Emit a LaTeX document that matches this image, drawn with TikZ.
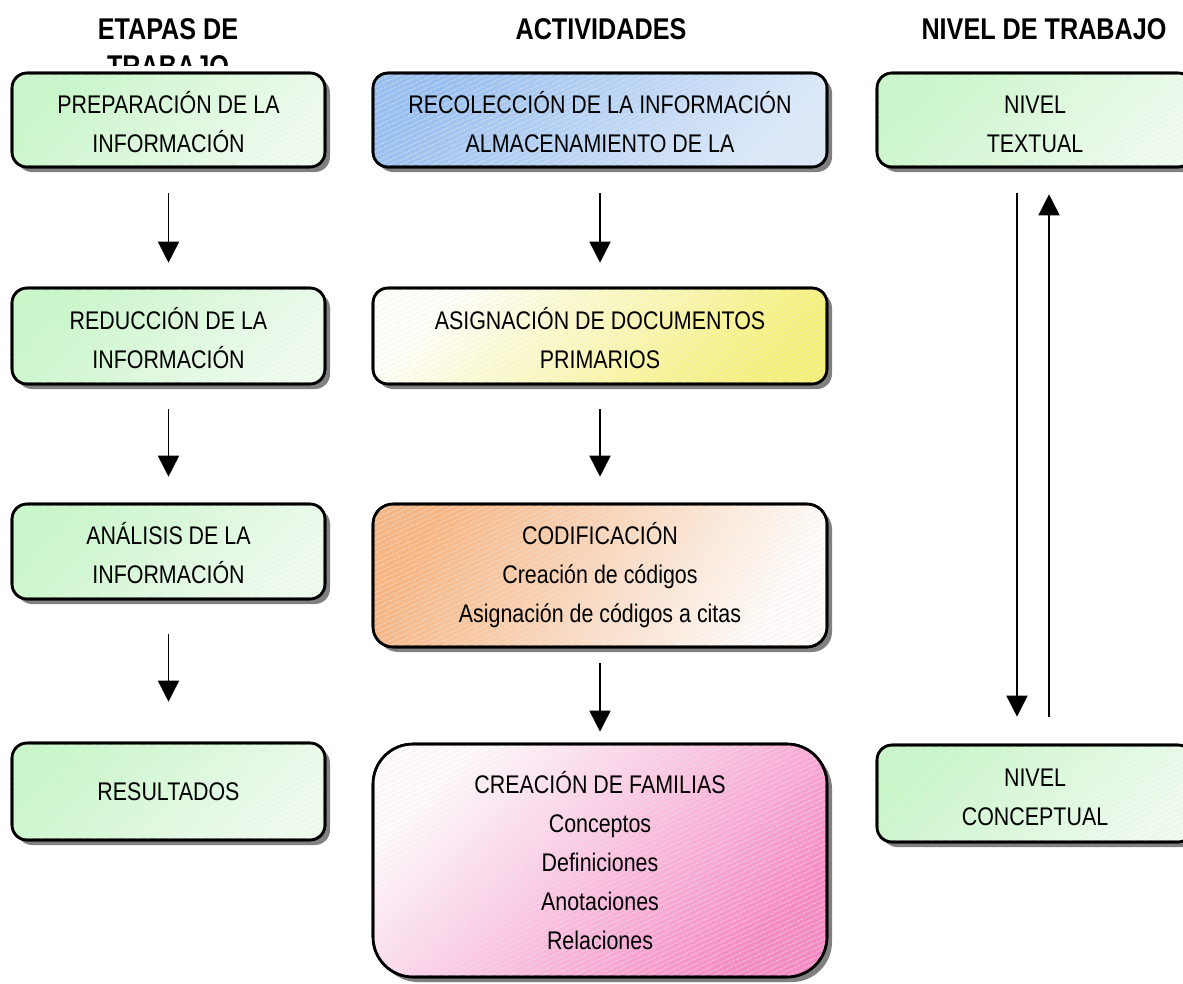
\documentclass[tikz,border=0pt]{standalone}
\usepackage{fontspec}
\setmainfont[FakeStretch=0.84]{Liberation Sans}
\usetikzlibrary{arrows.meta,shadows,patterns.meta}
\definecolor{grnA}{RGB}{198,247,198}
\definecolor{grnB}{RGB}{238,252,238}
\definecolor{bluA}{RGB}{150,190,240}
\definecolor{bluB}{RGB}{218,232,250}
\definecolor{yelA}{RGB}{245,240,115}
\definecolor{yelB}{RGB}{255,255,250}
\definecolor{orgA}{RGB}{246,180,128}
\definecolor{orgB}{RGB}{255,252,250}
\definecolor{pnkA}{RGB}{245,135,195}
\definecolor{pnkB}{RGB}{255,250,252}
\begin{document}
\begin{tikzpicture}[x=1pt,y=-1pt,
  box/.style={draw=black, line width=2.6pt, rounded corners=15pt, inner sep=0pt,
    align=center, font=\fontsize{25.5}{39}\selectfont,
    drop shadow={shadow xshift=5pt, shadow yshift=-5pt, fill=black!50, opacity=1},
    postaction={pattern={Lines[angle=25,distance=4pt,line width=0.8pt]}, pattern color=black!9},
    postaction={draw=black, line width=2.6pt}},
  twolines/.style={text height=66pt, text depth=1.6pt},
  gbox/.style={box, top color=grnA, bottom color=grnB, shading angle=45},
  bbox/.style={box, top color=bluA, bottom color=bluB, shading angle=45},
  ybox/.style={box, top color=yelB, bottom color=yelA, shading angle=45},
  obox/.style={box, top color=orgA, bottom color=orgB, shading angle=60, rounded corners=20pt},
  pbox/.style={box, top color=pnkB, bottom color=pnkA, shading angle=45, rounded corners=40pt},
  head/.style={font=\fontsize{30}{37}\selectfont\bfseries, inner sep=0pt, anchor=base},
  arr/.style={line width=1.6pt, -{Triangle[length=21pt,width=21pt]}}
]
\useasboundingbox (0,0) rectangle (1183,983);
% headers
\node[head] (h1) at (168,39) {ETAPAS DE};
\begin{scope}
  \clip (0,0) rectangle (400,65);
  \node[head] (h1b) at (168,76) {TRABAJO};
\end{scope}
\node[head] (h2) at (601,39) {ACTIVIDADES};
\node[head] (h3) at (1044,39) {NIVEL DE TRABAJO};
% left column
\node[gbox, twolines, minimum width=313pt, minimum height=94pt] (l1) at (168.5,120) {PREPARACIÓN DE LA\\INFORMACIÓN};
\node[gbox, twolines, minimum width=313pt, minimum height=96pt] (l2) at (168.5,336) {REDUCCIÓN DE LA\\INFORMACIÓN};
\node[gbox, twolines, minimum width=313pt, minimum height=95pt] (l3) at (168.5,551.5) {ANÁLISIS DE LA\\INFORMACIÓN};
\node[gbox, minimum width=313pt, minimum height=97pt] (l4) at (168.5,791.5) {RESULTADOS};
% middle column
\node[bbox, twolines, minimum width=454pt, minimum height=94pt] (m1) at (600,120) {RECOLECCIÓN DE LA INFORMACIÓN\\ALMACENAMIENTO DE LA};
\node[ybox, twolines, minimum width=454pt, minimum height=96pt] (m2) at (600,336) {ASIGNACIÓN DE DOCUMENTOS\\PRIMARIOS};
\node[obox, minimum width=454pt, minimum height=143pt] (m3) at (600,575.5) {CODIFICACIÓN\\Creación de códigos\\Asignación de códigos a citas};
\node[pbox, minimum width=454pt, minimum height=233pt] (m4) at (600,860.5) {CREACIÓN DE FAMILIAS\\Conceptos\\Definiciones\\Anotaciones\\Relaciones};
% right column
\node[gbox, twolines, minimum width=316pt, minimum height=94pt] (r1) at (1035,120) {NIVEL\\TEXTUAL};
\node[gbox, twolines, minimum width=316pt, minimum height=97pt] (r2) at (1035,793.5) {NIVEL\\CONCEPTUAL};
% arrows
\draw[arr, shorten <=25pt, shorten >=24pt] (l1) -- (l2);
\draw[arr, shorten <=24pt, shorten >=26pt] (l2) -- (l3);
\draw[arr, shorten <=34pt, shorten >=40pt] (l3) -- (l4);
\draw[arr, shorten <=25pt, shorten >=24pt] (m1) -- (m2);
\draw[arr, shorten <=24pt, shorten >=26pt] (m2) -- (m3);
\draw[arr, shorten <=15pt, shorten >=11pt] (m3) -- (m4);
\draw[arr, shorten <=25pt, shorten >=27pt] ([xshift=-18pt]r1.south) -- ([xshift=-18pt]r2.north);
\draw[arr, shorten <=27pt, shorten >=26pt] ([xshift=14pt]r2.north) -- ([xshift=14pt]r1.south);
\end{tikzpicture}
\end{document}
